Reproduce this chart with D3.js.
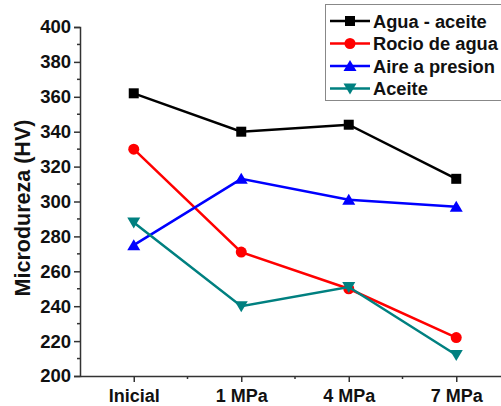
<!DOCTYPE html>
<html><head><meta charset="utf-8">
<script src="https://cdn.jsdelivr.net/npm/d3@7"></script>
<style>body{margin:0;background:#fff;} svg{display:block;font-family:Arial,"Liberation Sans",sans-serif;}</style>
</head><body>
<script>
const categories = ["Inicial", "1 MPa", "4 MPa", "7 MPa"];
const aguaAceite = [362, 340, 344, 313];
const rocioAgua = [330, 271, 250, 222];
const airePresion = [275, 313, 301, 297];
const aceite = [288, 240, 251, 212];
const seriesNames = ["Agua - aceite", "Rocio de agua", "Aire a presion", "Aceite"];
const seriesColors = ["#000000", "#ff0000", "#0000ff", "#008080"];
const seriesSymbols = ["square", "circle", "triUp", "triDown"];
const yTicks = [200, 220, 240, 260, 280, 300, 320, 340, 360, 380, 400];

const W = 501, H = 406;
const svg = d3.select("body").append("svg").attr("width", W).attr("height", H);
const x0 = 80, x1 = 510, yTop = 27, yBot = 376;
const x = d3.scalePoint().domain(categories).range([x0, x1]).padding(0.5);
const y = d3.scaleLinear().domain([200, 400]).range([yBot, yTop]);
const FONT = "Arial, 'Liberation Sans', sans-serif";
const axisColor = "#333";
// y axis
const ya = svg.append("g").attr("transform", `translate(${x0},0)`)
  .call(d3.axisLeft(y).tickValues(yTicks).tickSize(6).tickPadding(3));
ya.select(".domain").attr("stroke", axisColor).attr("stroke-width", 1.5);
ya.selectAll(".tick line").attr("stroke", axisColor).attr("stroke-width", 1.5);
ya.selectAll("text").attr("font-size", 18.5).attr("font-weight", "bold").attr("fill", "#111").attr("font-family", FONT);
const yMinor = d3.range(210, 400, 20);
svg.append("g").selectAll("line").data(yMinor).join("line")
  .attr("x1", x0).attr("x2", x0 - 3).attr("y1", d => y(d)).attr("y2", d => y(d))
  .attr("stroke", axisColor).attr("stroke-width", 1.5);

// x axis
const xa = svg.append("g").attr("transform", `translate(0,${yBot})`)
  .call(d3.axisBottom(x).tickSize(6).tickPadding(7).tickSizeOuter(0));
xa.select(".domain").attr("stroke", axisColor).attr("stroke-width", 1.5);
xa.selectAll(".tick line").attr("stroke", axisColor).attr("stroke-width", 1.5);
xa.selectAll("text").attr("font-size", 18).attr("font-weight", "bold").attr("fill", "#111").attr("font-family", FONT);
const step = x.step();
const xMinor = categories.slice(0, -1).map(c => x(c) + step / 2);
svg.append("g").selectAll("line").data(xMinor).join("line")
  .attr("x1", d => d).attr("x2", d => d).attr("y1", yBot).attr("y2", yBot + 3)
  .attr("stroke", axisColor).attr("stroke-width", 1.5);

// y label
svg.append("text").attr("transform", `translate(30,208) rotate(-90)`)
  .attr("text-anchor", "middle").attr("font-size", 21.5).attr("font-weight", "bold").attr("fill", "#111")
  .text("Microdureza (HV)");

function symbol(g, type, cx, cy, color) {
  if (type === "square") {
    g.append("rect").attr("x", cx - 5).attr("y", cy - 5).attr("width", 10).attr("height", 10).attr("fill", color);
  } else if (type === "circle") {
    g.append("circle").attr("cx", cx).attr("cy", cy).attr("r", 5.5).attr("fill", color);
  } else if (type === "triUp") {
    g.append("path").attr("d", `M${cx},${cy - 6}L${cx + 6.5},${cy + 5}L${cx - 6.5},${cy + 5}Z`).attr("fill", color);
  } else {
    g.append("path").attr("d", `M${cx},${cy + 6}L${cx + 6.5},${cy - 5}L${cx - 6.5},${cy - 5}Z`).attr("fill", color);
  }
}

const allSeries = [aguaAceite, rocioAgua, airePresion, aceite];
const line = d3.line().x((d, i) => x(categories[i])).y(d => y(d));
allSeries.forEach((vals, k) => {
  const g = svg.append("g");
  g.append("path").datum(vals).attr("d", line).attr("fill", "none")
    .attr("stroke", seriesColors[k]).attr("stroke-width", 2.5);
  vals.forEach((v, i) => symbol(g, seriesSymbols[k], x(categories[i]), y(v), seriesColors[k]));
});

// legend
const lg = svg.append("g");
lg.append("rect").attr("x", 325.5).attr("y", 4.5).attr("width", 180).attr("height", 96)
  .attr("fill", "#fff").attr("stroke", "#888").attr("stroke-width", 1);
seriesNames.forEach((name, k) => {
  const cy = 21 + k * 22.5;
  lg.append("line").attr("x1", 330).attr("x2", 370).attr("y1", cy).attr("y2", cy)
    .attr("stroke", seriesColors[k]).attr("stroke-width", 2.5);
  symbol(lg, seriesSymbols[k], 350, cy, seriesColors[k]);
  lg.append("text").attr("x", 373).attr("y", cy + 6.5).attr("font-size", 18.3).attr("font-weight", "bold")
    .attr("fill", "#111").text(name);
});
</script>
</body></html>
